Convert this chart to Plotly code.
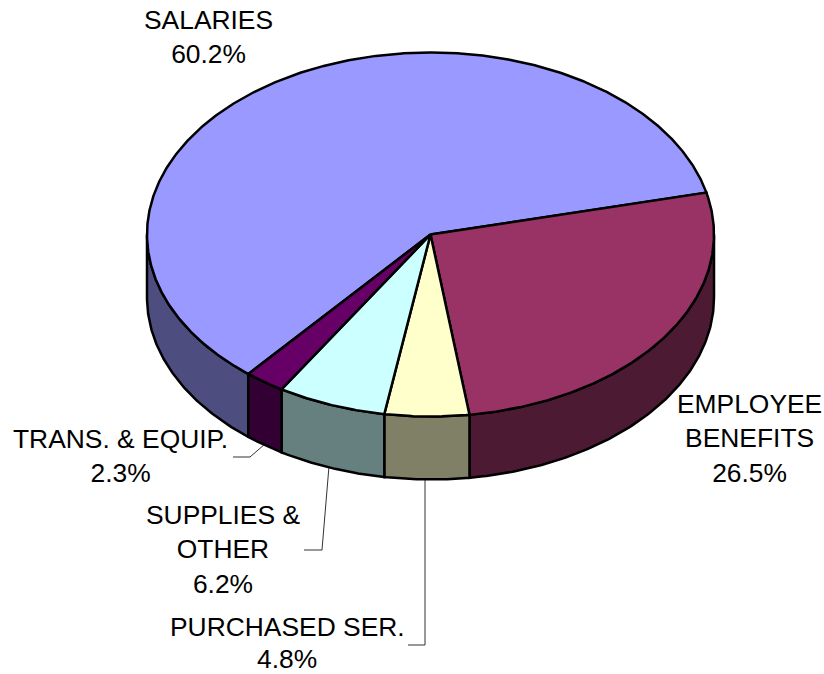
import numpy as np
import plotly.graph_objects as go

categories = ["SALARIES", "EMPLOYEE BENEFITS", "PURCHASED SER.", "SUPPLIES & OTHER", "TRANS. & EQUIP."]
values = [60.2, 26.5, 4.8, 6.2, 2.3]
top_colors = ["#9999FF", "#993366", "#FFFFCC", "#CCFFFF", "#660066"]
side_colors = ["#4D4D80", "#4D1A33", "#808066", "#668080", "#330033"]
label_texts = ["SALARIES<br>60.2%", "EMPLOYEE<br>BENEFITS<br>26.5%", "PURCHASED SER.", "4.8%",
               "SUPPLIES &<br>OTHER<br>6.2%", "TRANS. & EQUIP.<br>2.3%"]
label_x = [208, 749, 287, 287, 223, 120]
label_y = [37, 438, 627, 659, 549, 456]
leader_x = [None, None, [408, 425, 425], [304, 322, 329], [233, 250, 265]]
leader_y = [None, None, [645, 645, 478], [550, 550, 466], [457, 457, 444]]

CX, CY, RX, RY, DEPTH = 430.5, 234.5, 283.5, 182.0, 63.0
START_DEG = 13.3
EDGE = dict(color="#000000", width=2.5)


def pt(deg, dy=0.0):
    t = np.radians(deg)
    return CX + RX * np.cos(t), CY - RY * np.sin(t) + dy


fig = go.Figure()

total = sum(values)
a0 = START_DEG
a1 = a0 + values[0] / total * 360
spans = [(a0, a1)]
cur = START_DEG
for v in values[1:]:
    spans.append((cur - v / total * 360, cur))
    cur -= v / total * 360

# leader lines
for lx, ly in zip(leader_x, leader_y):
    if lx is not None:
        fig.add_trace(go.Scatter(x=lx, y=ly, mode="lines", line=dict(color="#333333", width=1),
                                 hoverinfo="skip", showlegend=False))

# side walls (only the front half of the rim is visible)
for (lo, hi), col in zip(spans, side_colors):
    for base in (-360, 0, 360):
        s, e = max(lo, 180 + base), min(hi, 360 + base)
        if e > s:
            ang = np.linspace(s, e, 120)
            xt, yt = pt(ang)
            xb, yb = pt(ang[::-1], DEPTH)
            fig.add_trace(go.Scatter(x=np.r_[xt, xb, xt[0]], y=np.r_[yt, yb, yt[0]], mode="lines",
                                     fill="toself", fillcolor=col, line=EDGE,
                                     hoverinfo="skip", showlegend=False))

# top face
for (lo, hi), col, name in zip(spans, top_colors, categories):
    ang = np.linspace(lo, hi, max(int((hi - lo) * 3), 20))
    xa, ya = pt(ang)
    fig.add_trace(go.Scatter(x=np.r_[CX, xa, CX], y=np.r_[CY, ya, CY], mode="lines",
                             fill="toself", fillcolor=col, line=EDGE, name=name,
                             hoverinfo="name", showlegend=False))

for txt, x, y in zip(label_texts, label_x, label_y):
    fig.add_annotation(x=x, y=y, text=txt, showarrow=False, xanchor="center", yanchor="middle",
                       align="center", font=dict(family="Liberation Sans, Arial, sans-serif", size=26.4, color="#000000"))

fig.update_layout(
    width=824, height=674, margin=dict(l=0, r=0, t=0, b=0),
    paper_bgcolor="#FFFFFF", plot_bgcolor="#FFFFFF", showlegend=False,
    xaxis=dict(range=[0, 824], visible=False, fixedrange=True),
    yaxis=dict(range=[674, 0], visible=False, fixedrange=True),
)
fig.write_html("out.html", config={"displayModeBar": False},
               post_script="document.body.style.margin='0';document.documentElement.style.overflow='hidden';")
